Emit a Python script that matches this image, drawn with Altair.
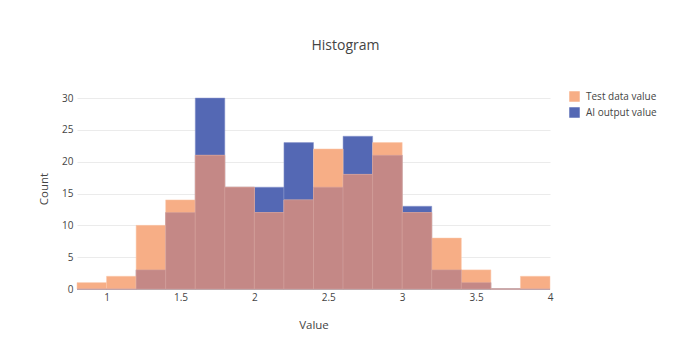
import altair as alt
import pandas as pd

bin_starts = [0.8, 1.0, 1.2, 1.4, 1.6, 1.8, 2.0, 2.2, 2.4, 2.6, 2.8, 3.0, 3.2, 3.4, 3.6, 3.8]
bin_width = 0.2
test_counts = [1, 2, 10, 14, 21, 16, 12, 14, 22, 18, 23, 12, 8, 3, 0, 2]
ai_counts = [0, 0, 3, 12, 30, 16, 16, 23, 16, 24, 21, 13, 3, 1, 0, 0]
series_names = ["Test data value", "AI output value"]
x_ticks = [1, 1.5, 2, 2.5, 3, 3.5, 4]
y_ticks = [0, 5, 10, 15, 20, 25, 30]

rows = []
for s, t, a in zip(bin_starts, test_counts, ai_counts):
    e = round(s + bin_width, 2)
    rows.append({"start": s, "end": e, "series": series_names[0], "count": t})
    rows.append({"start": s, "end": e, "series": series_names[1], "count": a})
df = pd.DataFrame(rows)
overlap = pd.DataFrame({
    "start": bin_starts,
    "end": [round(s + bin_width, 2) for s in bin_starts],
    "count": [min(t, a) for t, a in zip(test_counts, ai_counts)],
})

FONT = "Open Sans"
ORANGE = "#F7AE86"
BLUE = "#5468B4"
MIX = "#C48886"
TXT = "#444"

xscale = alt.Scale(domain=[0.8, 4.0], nice=False, zero=False)
yscale = alt.Scale(domain=[0, 31.58], nice=False)
color = alt.Color(
    "series:N",
    scale=alt.Scale(domain=series_names, range=[ORANGE, BLUE]),
    sort=series_names,
    legend=alt.Legend(
        title=None, orient="none", legendX=492, legendY=3,
        symbolType="square", symbolSize=110, symbolStrokeWidth=0,
        labelFont=FONT, labelFontSize=10, labelColor=TXT, labelOffset=6,
        rowPadding=5, symbolOpacity=1, labelLimit=200,
    ),
)

xaxis = alt.Axis(
    values=x_ticks, format="~g", title="Value", grid=False, ticks=False, domain=False,
    labelFont=FONT, labelFontSize=10, labelColor=TXT, labelPadding=3,
    titleFont=FONT, titleFontSize=11.5, titleColor=TXT, titleFontWeight="normal",
    titlePadding=17, labelFlush=False,
)
yaxis = alt.Axis(
    values=y_ticks, title="Count", grid=True, gridColor="#EBEBEB", ticks=False,
    domain=False, labelFont=FONT, labelFontSize=10, labelColor=TXT,
    labelPadding=4, titleFont=FONT, titleFontSize=11.5, titleColor=TXT,
    titleFontWeight="normal", titlePadding=12,
)

zero = alt.Chart(pd.DataFrame({"y": [0]})).mark_rule(color="#666", strokeWidth=1).encode(
    y=alt.Y("y:Q", scale=yscale, axis=yaxis)
)

base = alt.Chart(df)
ai_layer = base.transform_filter(alt.datum.series == series_names[1]).mark_bar(
    stroke="#8A97CC", strokeWidth=0.5
).encode(
    x=alt.X("start:Q", scale=xscale, axis=xaxis),
    x2="end:Q",
    y=alt.Y("count:Q", scale=yscale, axis=yaxis),
    y2=alt.datum(0),
    color=color,
)
test_layer = base.transform_filter(alt.datum.series == series_names[0]).mark_bar(
    stroke="#FAC6A8", strokeWidth=0.5
).encode(
    x=alt.X("start:Q", scale=xscale, axis=xaxis),
    x2="end:Q",
    y=alt.Y("count:Q", scale=yscale, axis=yaxis),
    y2=alt.datum(0),
    color=color,
)
mix_layer = alt.Chart(overlap).mark_bar(color=MIX, stroke="#D3A3A0", strokeWidth=0.5).encode(
    x=alt.X("start:Q", scale=xscale, axis=xaxis),
    x2="end:Q",
    y=alt.Y("count:Q", scale=yscale, axis=yaxis),
    y2=alt.datum(0),
)

chart = alt.layer(zero, ai_layer, test_layer, mix_layer).properties(
    width=473,
    height=201,
    background="white",
    autosize=alt.AutoSizeParams(type="none"),
    title=alt.TitleParams(
        "Histogram", font=FONT, fontSize=14, color=TXT, fontWeight="normal",
        anchor="middle", dx=32, offset=35,
    ),
    padding={"left": 69, "top": 80, "right": 118, "bottom": 58},
).configure_view(strokeWidth=0, stroke="transparent")

chart.save("out.html", embed_options={"renderer": "svg", "actions": False})
